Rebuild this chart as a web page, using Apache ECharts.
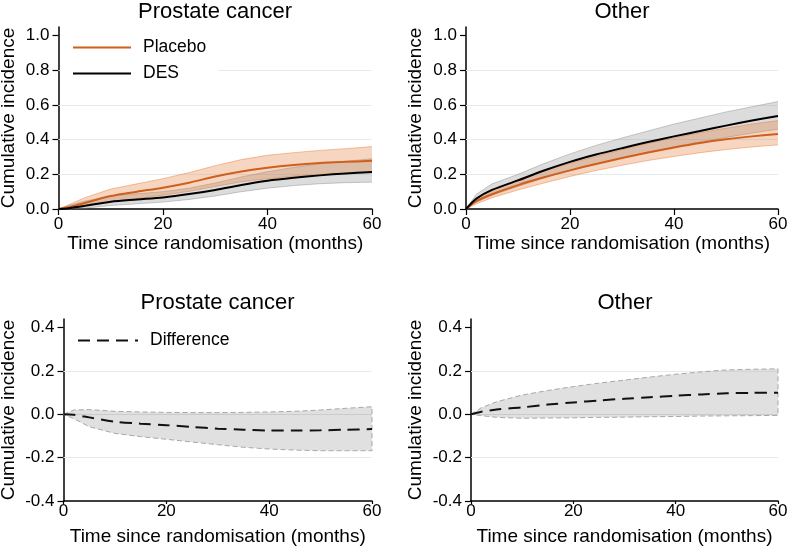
<!DOCTYPE html>
<html>
<head>
<meta charset="utf-8">
<script src="https://cdn.jsdelivr.net/npm/echarts@6/dist/echarts.min.js"></script>
<style>
html,body{margin:0;padding:0;background:#fff;}
#chart{width:787px;height:546px;}
</style>
</head>
<body>
<div id="chart"></div>
<script>
// ---- data ----
const months = [0, 2, 5, 10, 15, 20, 25, 30, 35, 40, 45, 50, 55, 60];

// Prostate cancer: cumulative incidence
const pcPlacebo   = [0, 0.010, 0.035, 0.075, 0.100, 0.123, 0.152, 0.187, 0.216, 0.238, 0.254, 0.265, 0.272, 0.278];
const pcPlaceboLo = [0, 0.003, 0.015, 0.040, 0.060, 0.080, 0.102, 0.130, 0.157, 0.175, 0.190, 0.200, 0.205, 0.210];
const pcPlaceboHi = [0, 0.025, 0.065, 0.115, 0.145, 0.175, 0.210, 0.250, 0.285, 0.310, 0.325, 0.338, 0.348, 0.360];
const pcDes       = [0, 0.005, 0.018, 0.042, 0.055, 0.067, 0.086, 0.110, 0.139, 0.163, 0.180, 0.194, 0.205, 0.213];
const pcDesLo     = [0, 0.000, 0.005, 0.020, 0.030, 0.040, 0.055, 0.075, 0.100, 0.120, 0.135, 0.146, 0.152, 0.155];
const pcDesHi     = [0, 0.020, 0.045, 0.075, 0.088, 0.100, 0.120, 0.150, 0.185, 0.215, 0.240, 0.260, 0.275, 0.290];

// Other causes: cumulative incidence
const otPlacebo   = [0, 0.045, 0.085, 0.138, 0.183, 0.223, 0.260, 0.294, 0.326, 0.355, 0.381, 0.402, 0.419, 0.433];
const otPlaceboLo = [0, 0.030, 0.065, 0.110, 0.150, 0.188, 0.222, 0.252, 0.280, 0.303, 0.325, 0.343, 0.358, 0.370];
const otPlaceboHi = [0, 0.060, 0.105, 0.170, 0.220, 0.263, 0.303, 0.343, 0.378, 0.410, 0.440, 0.466, 0.490, 0.510];
const otDes       = [0, 0.060, 0.110, 0.165, 0.222, 0.272, 0.314, 0.351, 0.386, 0.419, 0.450, 0.481, 0.510, 0.537];
const otDesLo     = [0, 0.040, 0.080, 0.130, 0.180, 0.222, 0.260, 0.295, 0.328, 0.358, 0.387, 0.413, 0.438, 0.460];
const otDesHi     = [0, 0.085, 0.145, 0.200, 0.262, 0.318, 0.367, 0.410, 0.450, 0.490, 0.525, 0.560, 0.590, 0.620];

// Differences
const pcDiff   = [0, -0.002, -0.014, -0.034, -0.043, -0.050, -0.058, -0.066, -0.071, -0.075, -0.075, -0.074, -0.071, -0.068];
const pcDiffLo = [0, -0.020, -0.057, -0.088, -0.103, -0.115, -0.128, -0.140, -0.152, -0.160, -0.165, -0.168, -0.168, -0.168];
const pcDiffHi = [0, 0.020, 0.022, 0.014, 0.011, 0.009, 0.008, 0.008, 0.009, 0.011, 0.014, 0.020, 0.028, 0.035];
const otDiff   = [0, 0.012, 0.022, 0.032, 0.045, 0.055, 0.064, 0.072, 0.079, 0.086, 0.092, 0.097, 0.099, 0.100];
const otDiffLo = [0, -0.006, -0.014, -0.018, -0.017, -0.016, -0.014, -0.013, -0.011, -0.010, -0.008, -0.007, -0.006, -0.005];
const otDiffHi = [0, 0.030, 0.058, 0.089, 0.110, 0.128, 0.144, 0.158, 0.172, 0.185, 0.196, 0.205, 0.208, 0.210];

// axes
const yTicksTop = [0, 0.2, 0.4, 0.6, 0.8, 1.0];
const yTicksBottom = [-0.4, -0.2, 0, 0.2, 0.4];
const gridLinesTop = [0.2, 0.4, 0.6, 0.8];
const gridLinesBottom = [-0.2, 0.2];
const zeroLine = [0];
const panelTitles = ['Prostate cancer', 'Other', 'Prostate cancer', 'Other'];
const xName = 'Time since randomisation (months)';
const yName = 'Cumulative incidence';

// ---- styling ----
const FONT = '"Liberation Sans", Arial, Helvetica, sans-serif';
const ORANGE = '#cf5f1c';
const ORANGE_FILL = 'rgba(230,120,50,0.30)';
const ORANGE_EDGE = 'rgba(230,120,50,0.45)';
const GRAY_FILL = 'rgba(128,128,128,0.28)';
const GRAY_EDGE = 'rgba(128,128,128,0.40)';
const DIFF_FILL = 'rgba(180,180,180,0.42)';
const DIFF_EDGE = '#a8a8a8';
const GRIDC = '#e3edf1';

const pairs = ys => months.map((m, i) => [m, ys[i]]);

// confidence band as a custom series: polygon between lower and upper arrays
function band(id, gi, lo, hi, fill, edge, dashed) {
  return {
    type: 'custom', name: id, xAxisIndex: gi, yAxisIndex: gi, z: 2, silent: true,
    data: [[0, 0]],
    renderItem: function (params, api) {
      const up = months.map((m, i) => api.coord([m, hi[i]]));
      const dn = months.map((m, i) => api.coord([m, lo[i]]));
      const children = [{
        type: 'polygon',
        shape: { points: up.concat(dn.slice().reverse()) },
        style: { fill: fill, stroke: dashed ? edge : null, lineWidth: 1, lineDash: dashed ? [5, 3] : null }
      }];
      if (!dashed) {
        children.push({ type: 'polyline', shape: { points: up }, style: { fill: null, stroke: edge, lineWidth: 1 } });
        children.push({ type: 'polyline', shape: { points: dn }, style: { fill: null, stroke: edge, lineWidth: 1 } });
      }
      return { type: 'group', children: children };
    }
  };
}

function curve(name, gi, ys, color, type, z) {
  return {
    type: 'line', name: name, xAxisIndex: gi, yAxisIndex: gi,
    symbol: 'none', smooth: 0.3, z: z || 4,
    lineStyle: { color: color, width: 2, type: type || 'solid' },
    itemStyle: { color: color },
    data: pairs(ys)
  };
}

function refLines(gi, values, color, z) {
  return {
    type: 'line', name: 'ref' + gi + '_' + z, xAxisIndex: gi, yAxisIndex: gi, data: [], z: z,
    markLine: {
      silent: true, symbol: 'none', z: z, animation: false, label: { show: false },
      lineStyle: { color: color, width: 1, type: 'solid' },
      data: values.map(v => ({ yAxis: v }))
    }
  };
}

const grids = [
  { left: 58.5, top: 27, width: 313.5, height: 182 },
  { left: 466, top: 27, width: 312, height: 182 },
  { left: 63.5, top: 319, width: 308.5, height: 182 },
  { left: 471, top: 319, width: 307, height: 182 }
];
grids.forEach(g => { g.containLabel = false; g.outerBoundsMode = 'none'; });

const axisLine = { onZero: false, lineStyle: { color: '#000', width: 1.5 } };

const xAxes = grids.map((g, i) => ({
  type: 'value', gridIndex: i, min: 0, max: 60, interval: 20,
  axisLine: axisLine,
  axisTick: { length: i < 2 ? 6 : 3, lineStyle: { color: '#000', width: 1.2 } },
  axisLabel: { color: '#000', fontSize: 17, fontFamily: FONT, margin: i < 2 ? 7 : 2 },
  splitLine: { show: false },
  name: xName, nameLocation: 'middle', nameGap: i < 2 ? 24 : 26,
  nameTextStyle: { color: '#000', fontSize: 19, fontFamily: FONT }
}));

const yGaps = [40, 41, 45, 46];
const yAxes = grids.map((g, i) => {
  const top = i < 2;
  const ticks = top ? yTicksTop : yTicksBottom;
  return {
    type: 'value', gridIndex: i,
    min: top ? 0 : -0.4, max: top ? 1.05 : 0.44, interval: 0.2,
    axisLine: axisLine,
    axisTick: { customValues: ticks, length: 6, lineStyle: { color: '#000', width: 1.2 } },
    axisLabel: {
      customValues: ticks, color: '#000', fontSize: 17, fontFamily: FONT, margin: 9,
      formatter: v => (Math.abs(v) < 1e-9 ? 0 : v).toFixed(1)
    },
    splitLine: { show: false },
    name: yName, nameLocation: 'middle', nameGap: yGaps[i],
    nameTextStyle: { color: '#000', fontSize: 19, fontFamily: FONT }
  };
});

const titleLeft = [215, 622, 217.5, 625];
const titleTop = [1, 1, 292, 292];
const titles = panelTitles.map((t, i) => ({
  text: t, left: titleLeft[i], top: titleTop[i], textAlign: 'center', padding: 0,
  textStyle: { color: '#000', fontSize: 22, fontWeight: 'normal', fontFamily: FONT }
}));

const series = [
  refLines(0, gridLinesTop, GRIDC, 1),
  refLines(1, gridLinesTop, GRIDC, 1),
  refLines(2, gridLinesBottom, GRIDC, 1),
  refLines(3, gridLinesBottom, GRIDC, 1),
  // Prostate cancer
  band('pcDesBand', 0, pcDesLo, pcDesHi, GRAY_FILL, GRAY_EDGE, false),
  band('pcPlaBand', 0, pcPlaceboLo, pcPlaceboHi, ORANGE_FILL, ORANGE_EDGE, false),
  curve('Placebo', 0, pcPlacebo, ORANGE),
  curve('DES', 0, pcDes, '#000', 'solid', 5),
  // Other
  band('otDesBand', 1, otDesLo, otDesHi, GRAY_FILL, GRAY_EDGE, false),
  band('otPlaBand', 1, otPlaceboLo, otPlaceboHi, ORANGE_FILL, ORANGE_EDGE, false),
  curve('Placebo', 1, otPlacebo, ORANGE),
  curve('DES', 1, otDes, '#000', 'solid', 5),
  // Differences
  band('pcDiffBand', 2, pcDiffLo, pcDiffHi, DIFF_FILL, DIFF_EDGE, true),
  band('otDiffBand', 3, otDiffLo, otDiffHi, DIFF_FILL, DIFF_EDGE, true),
  refLines(2, zeroLine, '#c9cccd', 3),
  refLines(3, zeroLine, '#c9cccd', 3),
  curve('Difference', 2, pcDiff, '#111', [12, 7], 5),
  curve('Difference', 3, otDiff, '#111', [12, 7], 5)
];

const legendText = { color: '#000', fontSize: 17.5, fontFamily: FONT, padding: [0, 0, 0, 7] };
const option = {
  animation: false,
  backgroundColor: '#fff',
  title: titles,
  grid: grids,
  xAxis: xAxes,
  yAxis: yAxes,
  legend: [
    {
      data: ['Placebo', 'DES'], orient: 'vertical', left: 61, top: 33.5,
      padding: [5, 12, 5, 11], backgroundColor: '#fff',
      itemWidth: 58, itemHeight: 20, itemGap: 8,
      itemStyle: { opacity: 0 },
      textStyle: legendText, selectedMode: false
    },
    {
      data: ['Difference'], orient: 'vertical', left: 77, top: 331.5, padding: 0,
      itemWidth: 60, itemHeight: 20,
      itemStyle: { opacity: 0 },
      textStyle: legendText, selectedMode: false
    }
  ],
  series: series
};

const chart = echarts.init(document.getElementById('chart'), null, { renderer: 'canvas' });
chart.setOption(option);
</script>
</body>
</html>
